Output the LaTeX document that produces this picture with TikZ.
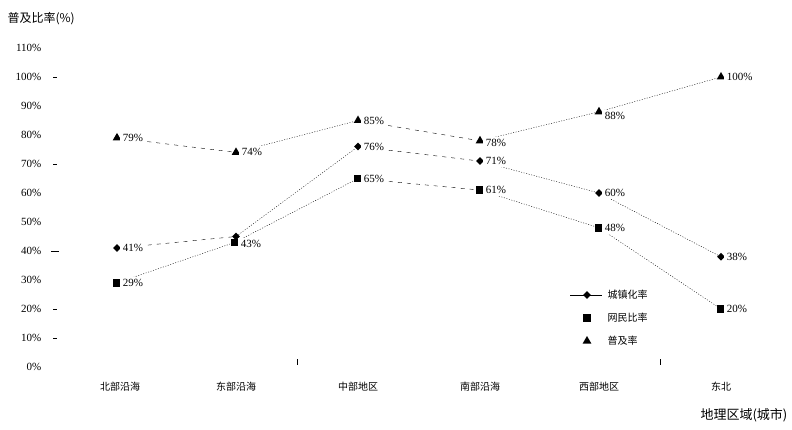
\documentclass[tikz,border=0pt]{standalone}
\usepackage{fontspec}
\setmainfont{Liberation Serif}
\newfontfamily\cjk{Noto Sans CJK SC}
\usetikzlibrary{shapes.geometric}
\pgfdeclarelayer{back}
\pgfsetlayers{back,main}

\begin{document}
\begin{tikzpicture}[x=1pt,y=-1pt,line width=0.6pt,font=\fontsize{11}{12}\selectfont,
    dia node/.style={diamond,fill=black,inner sep=0pt,minimum size=8pt},
    sq node/.style={rectangle,fill=black,inner sep=0pt,minimum size=7.5pt},
    tri node/.style={isosceles triangle,isosceles triangle apex angle=60,shape border rotate=90,fill=black,inner sep=0pt,minimum height=7.5pt},
    val/.style={right,xshift=3pt,fill=white,inner sep=2.5pt},
    dot line/.style={dash pattern=on 1pt off 1.6pt},
    dash line/.style={dash pattern=on 4pt off 5pt},
    axis label/.style={anchor=east},
    cat label/.style={font=\cjk\fontsize{10}{11}\selectfont},
    key label/.style={anchor=west,font=\cjk\fontsize{10}{11}\selectfont},
    tick mark/.style={line width=0.7pt}]
    \useasboundingbox (0,0) rectangle (792,430);

    % axis text
    \node[anchor=west,font=\cjk\fontsize{12}{13}\selectfont] (ytitle) at (4,19) {普及比率(\%)};
    \node[anchor=east,font=\cjk\fontsize{13}{14}\selectfont] (xtitle) at (791,415) {地理区域(城市)};
    \foreach \v in {0,10,...,110}
        \node[axis label] (y\v) at (45,{367-2.9*\v}) {\v\%};

    % stray ticks
    \draw[tick mark] (53,77) -- (57,77);
    \draw[tick mark] (53,164) -- (57,164);
    \draw[tick mark] (51,251) -- (59,251);
    \draw[tick mark] (53,309) -- (57,309);
    \draw[tick mark] (53,338) -- (57,338);
    \draw[tick mark] (297,359) -- (297,365);
    \draw[tick mark] (660,359) -- (660,365);

    % categories
    \node[cat label] (c1) at (120,387) {北部沿海};
    \node[cat label] (c2) at (236,387) {东部沿海};
    \node[cat label] (c3) at (358,387) {中部地区};
    \node[cat label] (c4) at (480,387) {南部沿海};
    \node[cat label] (c5) at (599,387) {西部地区};
    \node[cat label] (c6) at (721,387) {东北};

    % series: triangle
    \node[tri node] (t1) at (117,{367-2.9*79}) {};
    \node[tri node] (t2) at (236,{367-2.9*74}) {};
    \node[tri node] (t3) at (358,{367-2.9*85}) {};
    \node[tri node] (t4) at (480,{367-2.9*78}) {};
    \node[tri node] (t5) at (599,{367-2.9*88}) {};
    \node[tri node] (t6) at (721,{367-2.9*100}) {};
    \node[val] at (t1) {79\%};
    \node[val] at (t2) {74\%};
    \node[val] at (t3) {85\%};
    \node[val,yshift=-2pt] at (t4) {78\%};
    \node[val,yshift=-4pt] at (t5) {88\%};
    \node[val] at (t6) {100\%};

    % series: diamond
    \node[dia node] (d1) at (117,{367-2.9*41}) {};
    \node[dia node] (d2) at (236,{367-2.9*45}) {};
    \node[dia node] (d3) at (358,{367-2.9*76}) {};
    \node[dia node] (d4) at (480,{367-2.9*71}) {};
    \node[dia node] (d5) at (599,{367-2.9*60}) {};
    \node[dia node] (d6) at (721,{367-2.9*38}) {};
    \node[val] at (d1) {41\%};
    \node[val] at (d3) {76\%};
    \node[val] at (d4) {71\%};
    \node[val] at (d5) {60\%};
    \node[val] at (d6) {38\%};

    % series: square
    \node[sq node] (s1) at (117,{367-2.9*29}) {};
    \node[sq node] (s2) at (235,{367-2.9*43}) {};
    \node[sq node] (s3) at (358,{367-2.9*65}) {};
    \node[sq node] (s4) at (480,{367-2.9*61}) {};
    \node[sq node] (s5) at (599,{367-2.9*48}) {};
    \node[sq node] (s6) at (721,{367-2.9*20}) {};
    \node[val] at (s1) {29\%};
    \node[val,yshift=-2pt] at (s2) {43\%};
    \node[val] at (s3) {65\%};
    \node[val] at (s4) {61\%};
    \node[val] at (s5) {48\%};
    \node[val] at (s6) {20\%};

    \begin{pgfonlayer}{back}
    \path
        (t1) edge[dash line] (t2)
        (t2) edge[dot line] (t3)
        (t3) edge[dash line] (t4)
        (t4) edge[dot line] (t5)
        (t5) edge[dot line] (t6)
        (d1) edge[dash line] (d2)
        (d2) edge[dot line] (d3)
        (d3) edge[dash line] (d4)
        (d4) edge[dot line] (d5)
        (d5) edge[dot line] (d6)
        (s1) edge[dot line] (s2)
        (s2) edge[dot line] (s3)
        (s3) edge[dash line] (s4)
        (s4) edge[dot line] (s5)
        (s5) edge[dot line] (s6)
    ;
    \end{pgfonlayer}

    % legend
    \coordinate (la) at (570,295);
    \coordinate (lb) at (602,295);
    \draw (la) -- (lb);
    \node[dia node] (ld) at (587,295) {};
    \node[sq node] (ls) at (587,318) {};
    \node[tri node] (lt) at (587,341) {};
    \node[key label] at (604,295) {城镇化率};
    \node[key label] at (604,318) {网民比率};
    \node[key label] at (604,341) {普及率};
\end{tikzpicture}
\end{document}
